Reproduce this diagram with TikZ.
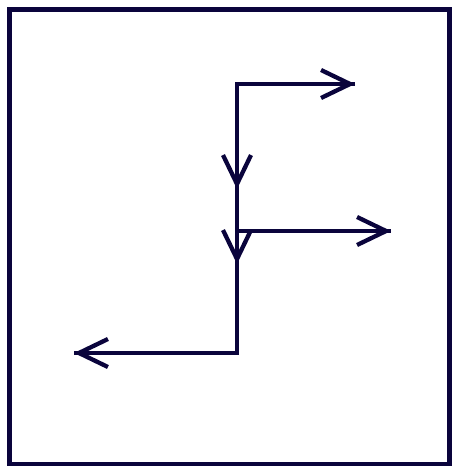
\documentclass[tikz,border=0pt]{standalone}
\usetikzlibrary{arrows.meta}
\definecolor{navy}{RGB}{10,4,60}
\begin{document}
\begin{tikzpicture}[x=1pt,y=-1pt,
  wire/.style={draw=navy,line width=4.3pt},
  arr/.style={wire,-{Straight Barb[length=29pt,width=28pt,line width=4.3pt]}}]
\useasboundingbox (0,0) rectangle (459,474);
\draw[navy,line width=4.5pt] (9.5,9.5) rectangle (449.5,464);
\coordinate (A) at (237,84);
\coordinate (B) at (355,84);
\coordinate (C) at (237,189);
\coordinate (D) at (237,231);
\coordinate (E) at (391,231);
\coordinate (F) at (237,264);
\coordinate (G) at (237,353);
\coordinate (H) at (74,353);
\draw[wire,line join=miter] (B) -- (A) -- (G) -- (H);
\draw[wire] (D) -- (E);
\draw[arr] (A) -- (B);
\draw[arr] (A) -- (C);
\draw[arr] (C) -- (F);
\draw[arr] (D) -- (E);
\draw[arr] (G) -- (H);
\end{tikzpicture}
\end{document}
